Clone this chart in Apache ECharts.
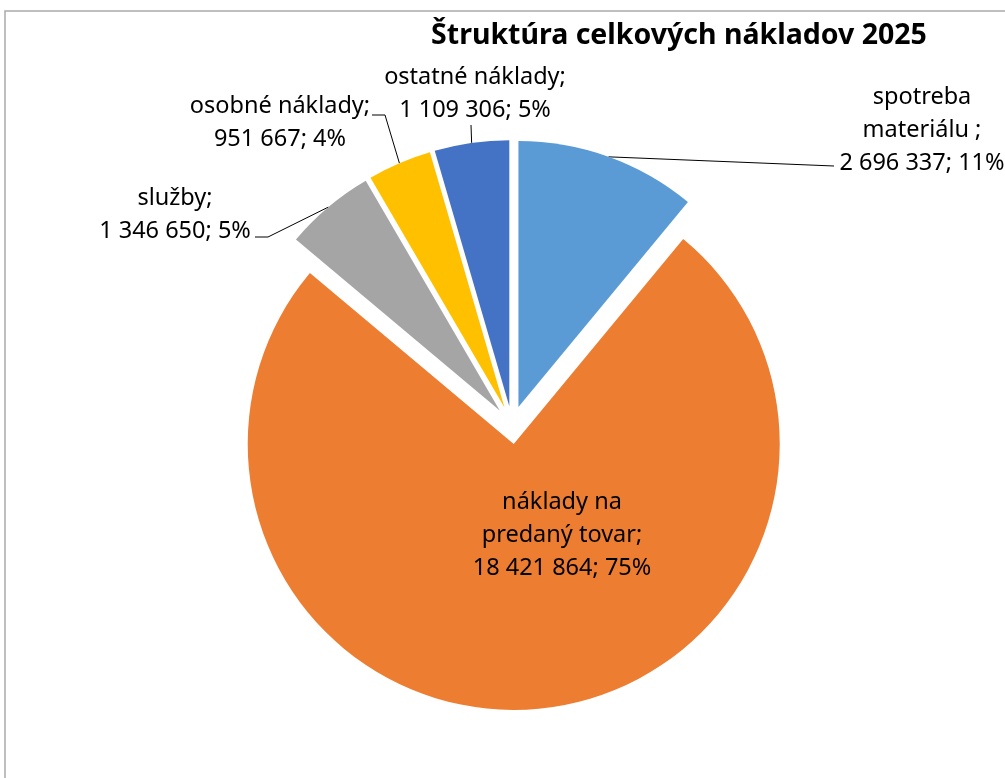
<!DOCTYPE html>
<html>
<head>
<meta charset="utf-8">
<script src="https://cdn.jsdelivr.net/npm/echarts@6/dist/echarts.min.js"></script>
<style>
html,body{margin:0;padding:0;background:#fff;}
#chart{width:1005px;height:778px;}
</style>
</head>
<body>
<div id="chart"></div>
<script>
// ---- data ----
const titleText = 'Štruktúra celkových nákladov 2025';
const categories = ['spotreba\nmateriálu ', 'náklady na\npredaný tovar', 'služby', 'osobné náklady', 'ostatné náklady'];
const values = [2696337, 18421864, 1346650, 951667, 1109306];
const colors = ['#5B9BD5', '#ED7D31', '#A5A5A5', '#FFC000', '#4472C4'];

// ---- layout / style ----
const C = [512, 425];
const R = 266;
const EXPLODE = 19;
const FONT = '"Noto Sans", sans-serif';
// label block centres and leader line elbows (pixel layout)
const labelPos = [
  {x: 922, y: 130, line: [[834, 166], [834, 166]]},
  {x: 562, y: 535, line: null},
  {x: 175, y: 215, line: [[268, 237], [255, 237]]},
  {x: 280, y: 123, line: [[385, 115], [372, 115]]},
  {x: 475, y: 94,  line: [[471, 125], [471, 125]]}
];

const total = values.reduce((a, b) => a + b, 0);
const fmt = v => String(v).replace(/\B(?=(\d{3})+(?!\d))/g, ' ');
const mids = [];
let acc = 0;
values.forEach(v => { const a = v / total * Math.PI * 2; mids.push(acc + a / 2); acc += a; });

const series = values.map((_, i) => {
  const m = mids[i];
  const cx = C[0] + EXPLODE * Math.sin(m);
  const cy = C[1] - EXPLODE * Math.cos(m);
  return {
    type: 'pie',
    silent: true,
    animation: false,
    startAngle: 90,
    clockwise: true,
    center: [cx, cy],
    radius: [0, R],
    avoidLabelOverlap: false,
    emphasis: {disabled: true},
    data: values.map((v, j) => ({
      name: categories[j],
      value: v,
      itemStyle: {color: j === i ? colors[j] : 'rgba(0,0,0,0)'},
      label: {show: j === i},
      labelLine: {show: j === i && labelPos[j].line !== null}
    })),
    label: {
      position: i === 1 ? 'inside' : 'outside',
      formatter: p => p.name + ';\n' + fmt(p.value) + '; ' + Math.round(p.value / total * 100) + '%',
      fontFamily: FONT,
      fontSize: 23.5,
      lineHeight: 33,
      color: '#000',
      align: 'center'
    },
    labelLine: {lineStyle: {color: '#000', width: 1}, length: 10, length2: 10},
    labelLayout: function (params) {
      if (params.dataIndex !== i) return {};
      const lp = labelPos[i];
      const out = {x: lp.x, y: lp.y, align: 'center', verticalAlign: 'middle'};
      if (lp.line) {
        const p0 = [cx + R * Math.sin(m), cy - R * Math.cos(m)];
        out.labelLinePoints = [p0, lp.line[0], lp.line[1]];
      }
      return out;
    }
  };
});

const chart = echarts.init(document.getElementById('chart'), null, {renderer: 'canvas'});
chart.setOption({
  backgroundColor: '#fff',
  animation: false,
  graphic: [
    {type: 'rect', shape: {x: 5, y: 11, width: 1200, height: 900}, style: {fill: 'none', stroke: '#aaaaaa', lineWidth: 1.5}, silent: true},
    {type: 'text', x: 679, y: 36, style: {text: titleText, align: 'center', verticalAlign: 'middle', font: 'bold 28.5px "Noto Sans", sans-serif', fill: '#000'}, silent: true}
  ],
  series: series
});
</script>
</body>
</html>
